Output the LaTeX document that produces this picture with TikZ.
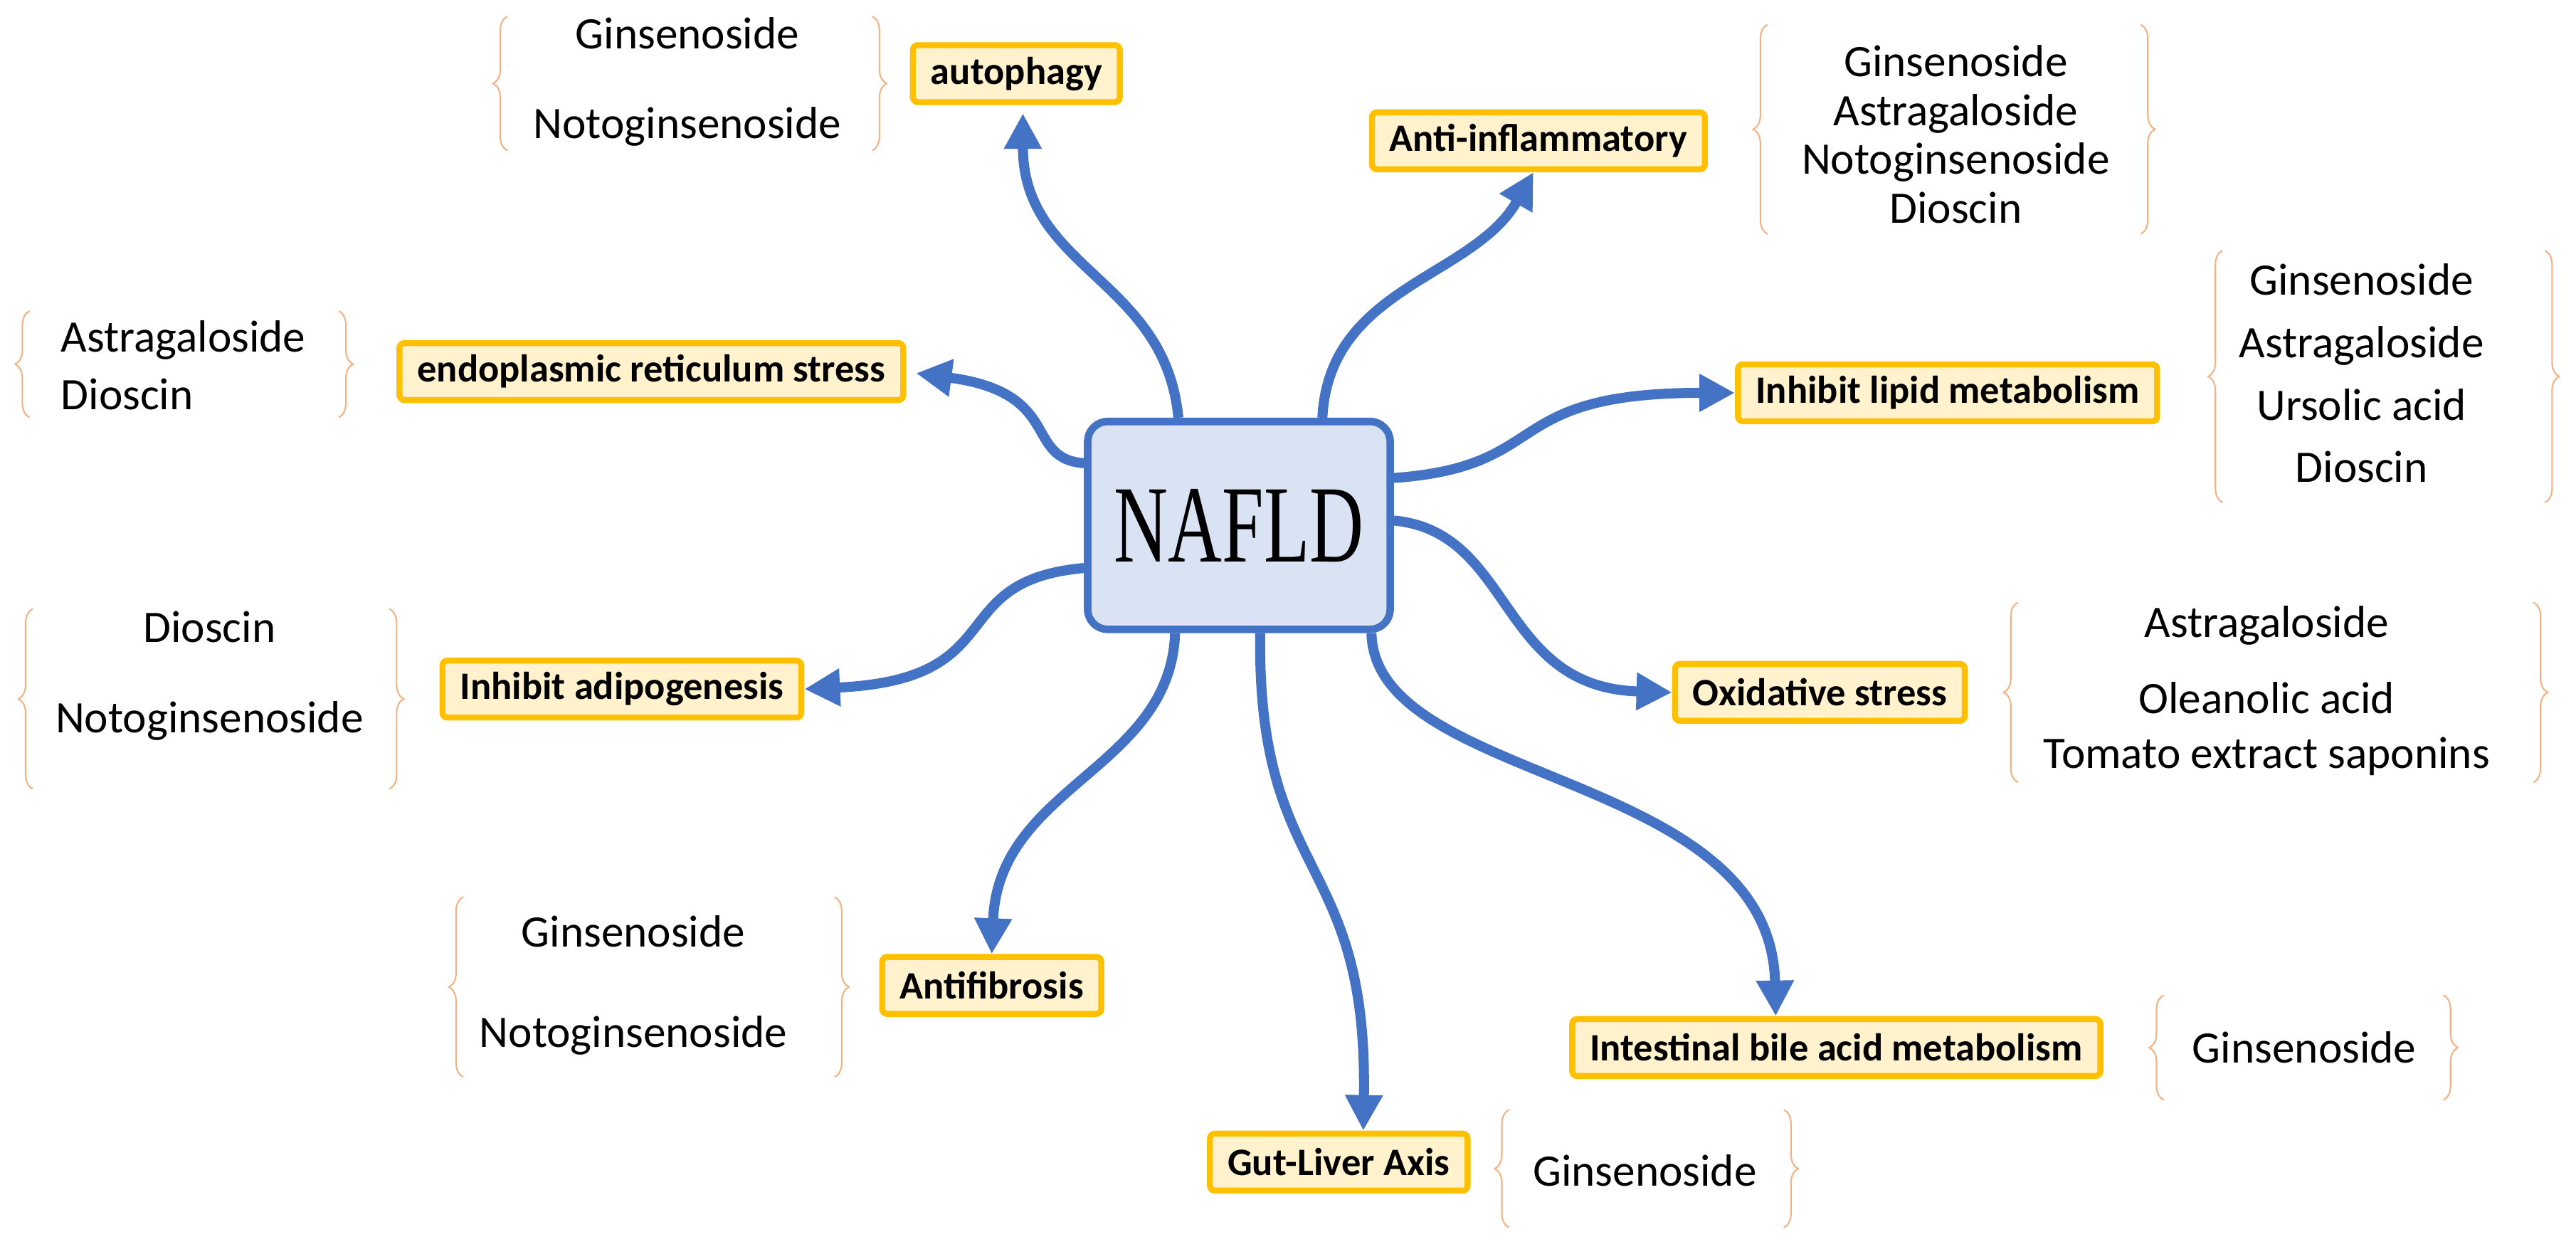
\documentclass[tikz,border=0pt]{standalone}
\usepackage{fontspec}
\setmainfont{Carlito}
\newfontfamily\nafldfont{Liberation Serif}
\usetikzlibrary{positioning,arrows.meta,decorations.pathreplacing}
\definecolor{flowblue}{HTML}{4472C4}
\definecolor{boxfill}{HTML}{DAE3F3}
\definecolor{tagfill}{HTML}{FFF2CC}
\definecolor{tagline}{HTML}{FFC000}
\definecolor{braceline}{HTML}{F4B183}
\begin{document}
\begin{tikzpicture}[x=0.023cm,y=-0.023cm]
	
	\tikzstyle{center}=[draw=flowblue,line width=3pt,fill=boxfill,rounded corners=8pt,minimum width=4.25cm,minimum height=2.92cm]
	\tikzstyle{tag}=[draw=tagline,line width=2.4pt,fill=tagfill,rounded corners=2pt,minimum height=0.8cm,inner xsep=0.25cm,font=\fontsize{15.5}{18}\selectfont\bfseries]
	\tikzstyle{herbs}=[align=center,font=\fontsize{18}{22}\selectfont]
	\tikzstyle{flow}=[draw=flowblue,line width=4pt,-{Triangle[length=0.5cm,width=0.5cm]}]
	\tikzstyle{grp}=[draw=braceline,line width=0.6pt,decorate,decoration={brace,amplitude=0.2cm}]
	
	\useasboundingbox (0,0) rectangle (1574,766);
	
	\node[center] (nafld) at (757,321) {\nafldfont\fontsize{44}{48}\selectfont\scalebox{0.68}[1]{NAFLD}};
	
	\node[tag] (auto) at (621,45) {autophagy};
	\node[tag] (infl) at (940,86) {Anti-inflammatory};
	\node[tag] (er) at (398,227) {endoplasmic reticulum stress};
	\node[tag] (lipid) at (1190,240) {Inhibit lipid metabolism};
	\node[tag] (adipo) at (380,421) {Inhibit adipogenesis};
	\node[tag] (oxid) at (1112,423) {Oxidative stress};
	\node[tag] (fibro) at (606,602) {Antifibrosis};
	\node[tag] (bile) at (1122,640) {Intestinal bile acid metabolism};
	\node[tag] (gut) at (818,710) {Gut-Liver Axis};
	
	\node[herbs,font=\fontsize{18}{36}\selectfont] (hauto) at (420,50) {Ginsenoside\\Notoginsenoside};
	\node[herbs,font=\fontsize{18}{19.5}\selectfont] (hinfl) at (1195,82) {Ginsenoside\\Astragaloside\\Notoginsenoside\\Dioscin};
	\node[herbs,align=left,font=\fontsize{18}{23}\selectfont] (her) at (112,223) {Astragaloside\\Dioscin};
	\node[herbs,font=\fontsize{18}{25}\selectfont] (hlipid) at (1443,228) {Ginsenoside\\Astragaloside\\Ursolic acid\\Dioscin};
	\node[herbs,font=\fontsize{18}{36}\selectfont] (hadipo) at (128,413) {Dioscin\\Notoginsenoside};
	\node[herbs,font=\fontsize{18}{22}\selectfont] (hoxid) at (1385,422) {Astragaloside\\[0.3cm]Oleanolic acid\\Tomato extract saponins};
	\node[herbs,font=\fontsize{18}{40}\selectfont] (hfibro) at (387,602) {Ginsenoside\\Notoginsenoside};
	\node[herbs] (hbile) at (1408,640) {Ginsenoside};
	\node[herbs] (hgut) at (1005,715) {Ginsenoside};
	
	% braces
	\draw[grp] (310,92) -- (310,10);
	\draw[grp] (533,10) -- (533,92);
	\draw[grp] (1080,143) -- (1080,15);
	\draw[grp] (1308,15) -- (1308,143);
	\draw[grp] (18,255) -- (18,190);
	\draw[grp] (207,190) -- (207,255);
	\draw[grp] (1358,307) -- (1358,153);
	\draw[grp] (1555,153) -- (1555,307);
	\draw[grp] (20,482) -- (20,372);
	\draw[grp] (238,372) -- (238,482);
	\draw[grp] (1233,478) -- (1233,368);
	\draw[grp] (1548,368) -- (1548,478);
	\draw[grp] (283,658) -- (283,548);
	\draw[grp] (510,548) -- (510,658);
	\draw[grp] (1322,672) -- (1322,608);
	\draw[grp] (1493,608) -- (1493,672);
	\draw[grp] (922,750) -- (922,678);
	\draw[grp] (1090,678) -- (1090,750);
	
	% arrows
	\draw[flow] ([shift={(-37,0)}]nafld.north) .. controls (712,170) and (625,165) .. ([shift={(4,5)}]auto.south);
	\draw[flow] ([shift={(51,0)}]nafld.north) .. controls (812,175) and (900,170) .. ([shift={(-3,0)}]infl.south);
	\draw[flow] ([shift={(0,-38)}]nafld.west) .. controls (625,280) and (650,240) .. ([shift={(6,1)}]er.east);
	\draw[flow] ([shift={(0,-29)}]nafld.east) .. controls (950,285) and (915,240) .. (lipid.west);
	\draw[flow] ([shift={(0,26)}]nafld.west) .. controls (575,355) and (620,415) .. (adipo.east);
	\draw[flow] ([shift={(0,-3)}]nafld.east) .. controls (925,325) and (915,420) .. (oxid.west);
	\draw[flow] ([shift={(-39,0)}]nafld.south) .. controls (715,470) and (610,480) .. (fibro.north);
	\draw[flow] ([shift={(13,0)}]nafld.south) .. controls (768,540) and (836,520) .. ([shift={(15,0)}]gut.north);
	\draw[flow] ([shift={(81,0)}]nafld.south) .. controls (840,480) and (1082,470) .. ([shift={(-37,0)}]bile.north);
	
\end{tikzpicture}
\end{document}
